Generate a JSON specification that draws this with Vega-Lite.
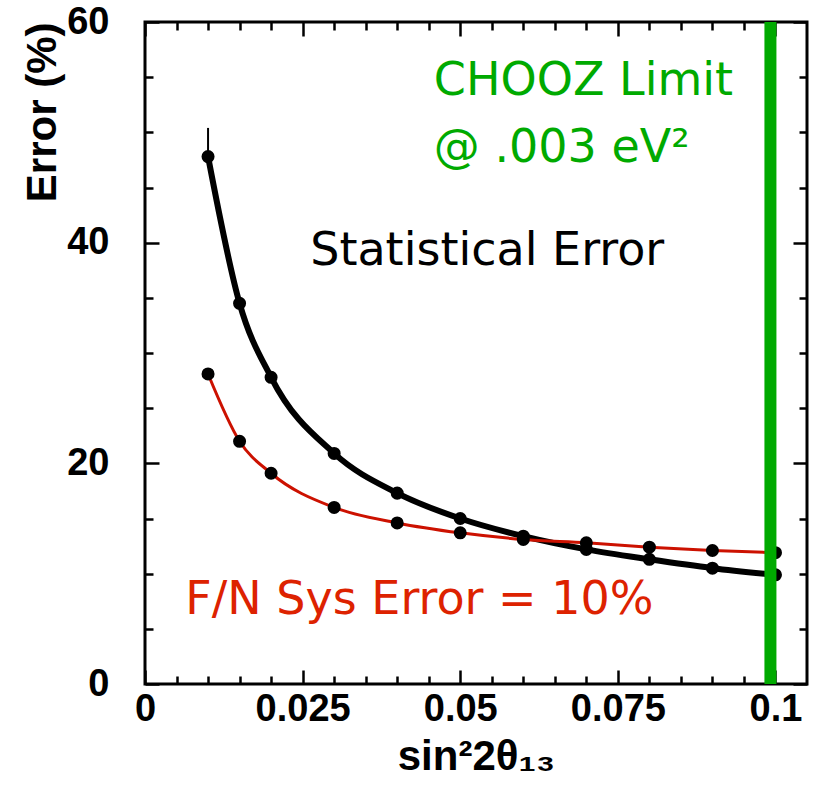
{
  "$schema": "https://vega.github.io/schema/vega-lite/v6.json",
  "width": 662,
  "height": 662,
  "autosize": {"type": "none"},
  "padding": {"left": 145, "top": 22, "right": 8, "bottom": 109},
  "background": "white",
  "config": {
    "view": {"stroke": "black", "strokeWidth": 3},
    "axis": {"grid": false, "domain": false, "tickColor": "black", "labelFont": "Liberation Sans", "labelFontWeight": "bold", "labelFontSize": 38, "labelColor": "black", "labelOverlap": false, "labelBound": false, "labelFlush": false, "titleFont": "Liberation Sans", "titleFontWeight": "bold", "titleFontSize": 42, "titleColor": "black"}
  },
  "datasets": {
    "curves": [
      {"s": "stat", "x": 0.01, "y": 47.8},
      {"s": "stat", "x": 0.015, "y": 34.5},
      {"s": "stat", "x": 0.02, "y": 27.8},
      {"s": "stat", "x": 0.03, "y": 20.9},
      {"s": "stat", "x": 0.04, "y": 17.3},
      {"s": "stat", "x": 0.05, "y": 15.0},
      {"s": "stat", "x": 0.06, "y": 13.4},
      {"s": "stat", "x": 0.07, "y": 12.2},
      {"s": "stat", "x": 0.08, "y": 11.3},
      {"s": "stat", "x": 0.09, "y": 10.5},
      {"s": "stat", "x": 0.1, "y": 9.9},
      {"s": "sys", "x": 0.01, "y": 28.1},
      {"s": "sys", "x": 0.015, "y": 22.0},
      {"s": "sys", "x": 0.02, "y": 19.1},
      {"s": "sys", "x": 0.03, "y": 16.0},
      {"s": "sys", "x": 0.04, "y": 14.6},
      {"s": "sys", "x": 0.05, "y": 13.7},
      {"s": "sys", "x": 0.06, "y": 13.1},
      {"s": "sys", "x": 0.07, "y": 12.8},
      {"s": "sys", "x": 0.08, "y": 12.4},
      {"s": "sys", "x": 0.09, "y": 12.1},
      {"s": "sys", "x": 0.1, "y": 11.9}
    ],
    "labels": [
      {"t": "CHOOZ Limit", "x": 0.0458, "y": 53.4, "c": "green"},
      {"t": "@ .003 eV²", "x": 0.0458, "y": 47.3, "c": "green"},
      {"t": "Statistical Error", "x": 0.0262, "y": 38.0, "c": "black"},
      {"t": "F/N Sys Error = 10%", "x": 0.0064, "y": 6.3, "c": "red"}
    ]
  },
  "encoding": {
    "x": {"field": "x", "type": "quantitative", "scale": {"domain": [0, 0.105], "nice": false, "zero": false}},
    "y": {"field": "y", "type": "quantitative", "scale": {"domain": [0, 60], "nice": false}}
  },
  "resolve": {"axis": {"x": "independent", "y": "independent"}},
  "layer": [
    {
      "data": {"name": "curves"},
      "transform": [{"filter": "datum.s == 'stat'"}],
      "mark": {"type": "line", "color": "black", "strokeWidth": 6, "interpolate": "monotone"},
      "encoding": {
        "x": {"field": "x", "type": "quantitative", "axis": {
          "orient": "bottom",
          "values": [0, 0.005, 0.01, 0.015, 0.02, 0.025, 0.03, 0.035, 0.04, 0.045, 0.05, 0.055, 0.06, 0.065, 0.07, 0.075, 0.08, 0.085, 0.09, 0.095, 0.1],
          "format": ".3~f",
          "labelExpr": "abs(datum.value*40 - round(datum.value*40)) < 0.01 ? datum.label : ''",
          "tickSize": {"condition": {"test": "abs(datum.value*40 - round(datum.value*40)) < 0.01", "value": -14}, "value": -8},
          "tickWidth": 2.5, "labelPadding": 20, "title": "sin²2θ₁₃", "titlePadding": 2}},
        "y": {"field": "y", "type": "quantitative", "axis": {
          "orient": "left",
          "values": [0, 5, 10, 15, 20, 25, 30, 35, 40, 45, 50, 55, 60],
          "labelExpr": "datum.value % 20 == 0 ? datum.label : ''",
          "tickSize": {"condition": {"test": "datum.value % 20 == 0", "value": -14}, "value": -8},
          "tickWidth": 2.5, "labelPadding": 50, "title": "Error (%)", "titleAnchor": "end", "titlePadding": 2}}
      }
    },
    {
      "data": {"name": "curves"},
      "transform": [{"filter": "datum.s == 'sys'"}],
      "mark": {"type": "line", "color": "#cc1100", "strokeWidth": 3, "interpolate": "monotone"},
      "encoding": {
        "x": {"field": "x", "type": "quantitative", "axis": {
          "orient": "top",
          "values": [0, 0.005, 0.01, 0.015, 0.02, 0.025, 0.03, 0.035, 0.04, 0.045, 0.05, 0.055, 0.06, 0.065, 0.07, 0.075, 0.08, 0.085, 0.09, 0.095, 0.1],
          "labels": false,
          "tickSize": {"condition": {"test": "abs(datum.value*40 - round(datum.value*40)) < 0.01", "value": -14}, "value": -8},
          "tickWidth": 2.5, "title": null}},
        "y": {"field": "y", "type": "quantitative", "axis": {
          "orient": "right",
          "values": [0, 5, 10, 15, 20, 25, 30, 35, 40, 45, 50, 55, 60],
          "labels": false,
          "tickSize": {"condition": {"test": "datum.value % 20 == 0", "value": -14}, "value": -8},
          "tickWidth": 2.5, "title": null}}
      }
    },
    {
      "data": {"name": "curves"},
      "mark": {"type": "point", "filled": true, "color": "black", "size": 170, "opacity": 1},
      "encoding": {
        "x": {"field": "x", "type": "quantitative", "axis": null},
        "y": {"field": "y", "type": "quantitative", "axis": null}
      }
    },
    {
      "data": {"values": [{"x": 0.01, "y": 47.8, "y2": 50.4}]},
      "mark": {"type": "rule", "color": "black", "strokeWidth": 2},
      "encoding": {
        "x": {"field": "x", "type": "quantitative", "axis": null},
        "y": {"field": "y", "type": "quantitative", "axis": null},
        "y2": {"field": "y2"}
      }
    },
    {
      "data": {"values": [{"x": 0.0992}]},
      "mark": {"type": "rule", "color": "#00aa00", "strokeWidth": 12},
      "encoding": {
        "x": {"field": "x", "type": "quantitative", "axis": null},
        "y": null
      }
    },
    {
      "data": {"name": "labels"},
      "mark": {"type": "text", "align": "left", "baseline": "alphabetic", "font": "DejaVu Sans", "fontSize": 46},
      "encoding": {
        "x": {"field": "x", "type": "quantitative", "axis": null},
        "y": {"field": "y", "type": "quantitative", "axis": null},
        "text": {"field": "t"},
        "color": {"field": "c", "type": "nominal", "scale": {"domain": ["green", "black", "red"], "range": ["#00aa00", "black", "#dd2200"]}, "legend": null}
      }
    }
  ]
}
